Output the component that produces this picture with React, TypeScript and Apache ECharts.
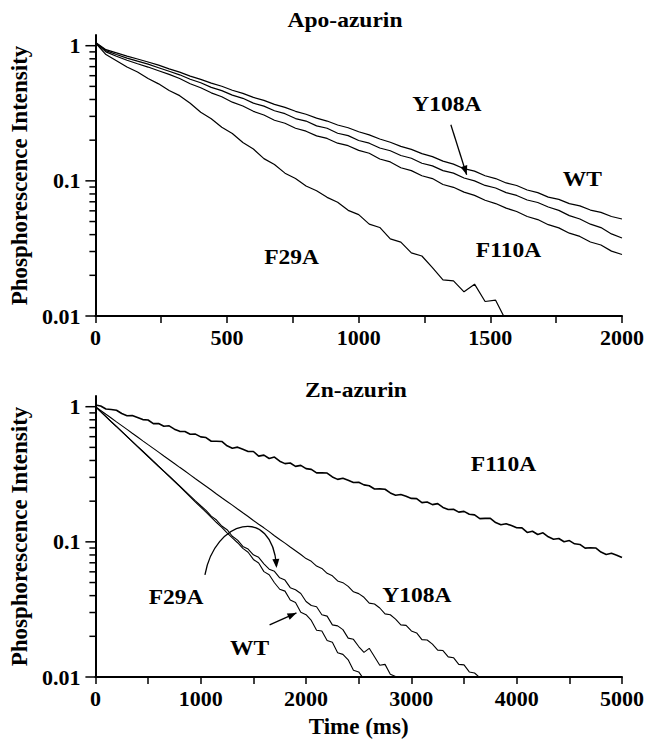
import React, { useEffect, useRef } from 'react';
import * as echarts from 'echarts';

// ---------- data ----------
const topTime = [0, 40, 80, 120, 160, 200, 240, 280, 320, 360, 400, 440, 480, 520, 560, 600, 640, 680, 720, 760, 800, 840, 880, 920, 960, 1000, 1040, 1080, 1120, 1160, 1200, 1240, 1280, 1320, 1360, 1400, 1440, 1480, 1520, 1560, 1600, 1640, 1680, 1720, 1760, 1800, 1840, 1880, 1920, 1960, 2000];

const apoWT = [1.06, 0.935, 0.885, 0.838, 0.797, 0.757, 0.718, 0.674, 0.637, 0.596, 0.563, 0.528, 0.501, 0.468, 0.444, 0.415, 0.394, 0.368, 0.35, 0.327, 0.311, 0.291, 0.277, 0.259, 0.247, 0.231, 0.219, 0.204, 0.193, 0.18, 0.171, 0.159, 0.151, 0.14, 0.133, 0.123, 0.118, 0.109, 0.104, 0.0965, 0.0924, 0.0856, 0.0818, 0.0758, 0.0729, 0.0678, 0.0653, 0.0608, 0.0584, 0.0545, 0.0522];
const apoY108A = [1.05, 0.92, 0.86, 0.81, 0.768, 0.73, 0.687, 0.647, 0.609, 0.565, 0.532, 0.492, 0.465, 0.431, 0.408, 0.376, 0.357, 0.33, 0.314, 0.289, 0.277, 0.255, 0.245, 0.225, 0.216, 0.199, 0.19, 0.175, 0.167, 0.154, 0.147, 0.135, 0.129, 0.119, 0.114, 0.105, 0.1, 0.0925, 0.0885, 0.0818, 0.078, 0.0722, 0.0692, 0.0641, 0.0605, 0.0553, 0.0522, 0.0478, 0.0451, 0.0405, 0.0378];
const apoF110A = [1.05, 0.9, 0.835, 0.78, 0.735, 0.695, 0.653, 0.614, 0.572, 0.523, 0.488, 0.448, 0.419, 0.382, 0.358, 0.327, 0.307, 0.281, 0.267, 0.245, 0.233, 0.215, 0.206, 0.19, 0.182, 0.168, 0.16, 0.145, 0.138, 0.125, 0.119, 0.109, 0.104, 0.094, 0.0896, 0.0825, 0.0781, 0.0718, 0.0679, 0.0628, 0.0593, 0.0545, 0.0517, 0.0474, 0.0449, 0.041, 0.0388, 0.0353, 0.0335, 0.0302, 0.0285];
const apoF29A = [1.05, 0.86, 0.775, 0.695, 0.638, 0.572, 0.522, 0.466, 0.427, 0.375, 0.322, 0.288, 0.249, 0.224, 0.192, 0.172, 0.146, 0.132, 0.114, 0.104, 0.0915, 0.0845, 0.0755, 0.0695, 0.0605, 0.0562, 0.0478, 0.0452, 0.0372, 0.0352, 0.0293, 0.0278, 0.0228, 0.0185, 0.0182, 0.0151, 0.0172, 0.0128, 0.0131, 0.0092, 0.0101];

const botTime = [0, 50, 100, 150, 200, 250, 300, 350, 400, 450, 500, 550, 600, 650, 700, 750, 800, 850, 900, 950, 1000, 1050, 1100, 1150, 1200, 1250, 1300, 1350, 1400, 1450, 1500, 1550, 1600, 1650, 1700, 1750, 1800, 1850, 1900, 1950, 2000, 2050, 2100, 2150, 2200, 2250, 2300, 2350, 2400, 2450, 2500, 2550, 2600, 2650, 2700, 2750, 2800, 2850, 2900, 2950, 3000, 3050, 3100, 3150, 3200, 3250, 3300, 3350, 3400, 3450, 3500, 3550, 3600, 3650, 3700, 3750, 3800, 3850, 3900, 3950, 4000, 4050, 4100, 4150, 4200, 4250, 4300, 4350, 4400, 4450, 4500, 4550, 4600, 4650, 4700, 4750, 4800, 4850, 4900, 4950, 5000];

const znF110A = [1.03, 1.012, 0.961, 0.954, 0.942, 0.89, 0.858, 0.861, 0.833, 0.803, 0.797, 0.749, 0.751, 0.717, 0.722, 0.682, 0.657, 0.655, 0.626, 0.627, 0.598, 0.591, 0.555, 0.555, 0.553, 0.514, 0.493, 0.502, 0.484, 0.466, 0.466, 0.431, 0.438, 0.414, 0.424, 0.395, 0.379, 0.383, 0.362, 0.368, 0.348, 0.344, 0.324, 0.324, 0.323, 0.302, 0.29, 0.296, 0.286, 0.275, 0.276, 0.264, 0.26, 0.246, 0.2465, 0.245, 0.23, 0.2213, 0.2238, 0.2173, 0.2097, 0.2089, 0.195, 0.1974, 0.1886, 0.1918, 0.1799, 0.1736, 0.1742, 0.1659, 0.1681, 0.16, 0.1583, 0.1486, 0.1491, 0.1494, 0.1389, 0.1339, 0.136, 0.132, 0.127, 0.1268, 0.1174, 0.1198, 0.1133, 0.1167, 0.1089, 0.1046, 0.1059, 0.1002, 0.1022, 0.0967, 0.0957, 0.0899, 0.0904, 0.0901, 0.084, 0.0807, 0.0823, 0.0797, 0.0766];
const znY108A = [1.0, 0.938, 0.879, 0.824, 0.772, 0.724, 0.679, 0.636, 0.597, 0.559, 0.524, 0.492, 0.461, 0.432, 0.405, 0.38, 0.356, 0.334, 0.313, 0.293, 0.275, 0.258, 0.242, 0.226, 0.212, 0.199, 0.187, 0.175, 0.164, 0.154, 0.144, 0.135, 0.127, 0.119, 0.111, 0.104, 0.0978, 0.0917, 0.086, 0.0806, 0.0752, 0.0718, 0.0662, 0.0636, 0.0585, 0.0561, 0.0514, 0.0499, 0.0468, 0.0427, 0.0414, 0.0389, 0.0352, 0.0347, 0.0324, 0.0293, 0.0289, 0.0268, 0.0243, 0.0241, 0.0219, 0.0212, 0.0189, 0.0188, 0.0175, 0.0158, 0.0157, 0.0141, 0.0139, 0.0124, 0.0123, 0.0109, 0.0107, 0.0099, 0.0094];
const znF29A = [1.0, 0.919, 0.845, 0.776, 0.714, 0.656, 0.603, 0.554, 0.509, 0.468, 0.43, 0.395, 0.363, 0.334, 0.307, 0.282, 0.259, 0.238, 0.219, 0.201, 0.185, 0.171, 0.155, 0.145, 0.131, 0.123, 0.11, 0.103, 0.0925, 0.0885, 0.0802, 0.0768, 0.0688, 0.0628, 0.0605, 0.0542, 0.0521, 0.0458, 0.0442, 0.0415, 0.0362, 0.0338, 0.0331, 0.0289, 0.0282, 0.0243, 0.0239, 0.0224, 0.0194, 0.019, 0.0168, 0.0152, 0.0163, 0.0141, 0.0122, 0.0124, 0.0105, 0.0101, 0.0092];
const znWT = [1.0, 0.918, 0.843, 0.774, 0.712, 0.654, 0.601, 0.552, 0.507, 0.466, 0.428, 0.393, 0.361, 0.332, 0.305, 0.28, 0.257, 0.235, 0.215, 0.197, 0.181, 0.166, 0.152, 0.139, 0.128, 0.1165, 0.107, 0.0985, 0.0895, 0.0838, 0.0741, 0.0697, 0.0602, 0.0571, 0.0498, 0.0446, 0.0432, 0.0371, 0.0356, 0.0301, 0.0289, 0.0262, 0.0222, 0.0219, 0.0186, 0.0181, 0.0151, 0.0147, 0.0134, 0.0112, 0.0109, 0.0096, 0.0088];

const yTickValues = [0.01, 0.1, 1];
const yTickLabels = ['0.01', '0.1', '1'];
const yMinorTickValues = [0.02, 0.03, 0.04, 0.05, 0.06, 0.07, 0.08, 0.09, 0.2, 0.3, 0.4, 0.5, 0.6, 0.7, 0.8, 0.9];

const panelTitles = ['Apo-azurin', 'Zn-azurin'];
const topLabels = [
  { text: 'Y108A', t: 1335, v: 0.372 },
  { text: 'WT', t: 1849, v: 0.1035 },
  { text: 'F110A', t: 1569, v: 0.0308 },
  { text: 'F29A', t: 745, v: 0.0274 },
];
const botLabels = [
  { text: 'F110A', t: 3875, v: 0.378 },
  { text: 'Y108A', t: 3053, v: 0.0405 },
  { text: 'F29A', t: 766, v: 0.0391 },
  { text: 'WT', t: 1465, v: 0.0164 },
];

// ---------- style ----------
const FONT = '"Liberation Serif", "Times New Roman", Times, serif';
const BLACK = '#000';

function pairs(t: number[], v: number[]) {
  const out: number[][] = [];
  for (let i = 0; i < v.length; i++) out.push([t[i], v[i]]);
  return out;
}

function lineSeries(gi: number, data: number[][], width = 1.2) {
  return {
    type: 'line',
    xAxisIndex: gi,
    yAxisIndex: gi,
    data,
    showSymbol: false,
    symbol: 'none',
    silent: true,
    clip: true,
    lineStyle: { color: BLACK, width },
    itemStyle: { color: BLACK },
  };
}

function yTickSeries(gi: number) {
  const data = [
    ...yTickValues.map((v) => [0, v, 10]),
    ...yMinorTickValues.map((v) => [0, v, 6]),
  ];
  return {
    type: 'custom',
    xAxisIndex: gi,
    yAxisIndex: gi,
    silent: true,
    clip: false,
    z: 5,
    data,
    renderItem: (_p: any, api: any) => {
      const p = api.coord([0, api.value(1)]);
      const len = api.value(2);
      return {
        type: 'line',
        shape: { x1: p[0] - len, y1: p[1], x2: p[0], y2: p[1] },
        style: { stroke: BLACK, lineWidth: 1.5 },
      };
    },
  };
}

function xAxis(gi: number, max: number, interval: number, name?: string) {
  return {
    type: 'value',
    gridIndex: gi,
    min: 0,
    max,
    interval,
    axisLine: { show: true, onZero: false, lineStyle: { color: BLACK, width: 2 } },
    axisTick: { show: true, length: 7, lineStyle: { color: BLACK, width: 1.5 } },
    minorTick: { show: true, splitNumber: 2, length: 7, lineStyle: { color: BLACK, width: 1.5 } },
    splitLine: { show: false },
    minorSplitLine: { show: false },
    axisLabel: {
      color: BLACK, fontFamily: FONT, fontWeight: 'bold', fontSize: 22, margin: 10,
      formatter: (v: number) => String(v),
    },
    name: name || '',
    nameLocation: 'middle',
    nameGap: 38,
    nameTextStyle: { color: BLACK, fontFamily: FONT, fontWeight: 'bold', fontSize: 23 },
  };
}

function yAxis(gi: number) {
  return {
    type: 'log',
    logBase: 10,
    gridIndex: gi,
    min: 0.01,
    max: 1.2,
    axisLine: { show: true, onZero: false, lineStyle: { color: BLACK, width: 2 } },
    axisTick: { show: false },
    minorTick: { show: false },
    splitLine: { show: false },
    minorSplitLine: { show: false },
    axisLabel: {
      color: BLACK,
      fontFamily: FONT,
      fontWeight: 'bold',
      fontSize: 22,
      margin: 15,
      formatter: (v: number) => {
        for (let i = 0; i < yTickValues.length; i++) {
          if (Math.abs(v - yTickValues[i]) / yTickValues[i] < 1e-6) return yTickLabels[i];
        }
        return '';
      },
    },
    name: 'Phosphorescence Intensity',
    nameLocation: 'middle',
    nameRotate: 90,
    nameGap: 61,
    nameTextStyle: { color: BLACK, fontFamily: FONT, fontWeight: 'bold', fontSize: 23 },
  };
}

function arrowHead(x1: number, y1: number, x2: number, y2: number, len = 9, w = 3.5) {
  const dx = x2 - x1;
  const dy = y2 - y1;
  const d = Math.hypot(dx, dy) || 1;
  const ux = dx / d;
  const uy = dy / d;
  const bx = x2 - ux * len;
  const by = y2 - uy * len;
  return [
    [x2, y2],
    [bx - uy * w, by + ux * w],
    [bx + uy * w, by - ux * w],
  ];
}

export default function App() {
  const ref = useRef<HTMLDivElement>(null);

  useEffect(() => {
    if (!ref.current) return;
    const chart = echarts.init(ref.current, null, { renderer: 'svg' });
    const option: any = {
      animation: false,
      backgroundColor: '#fff',
      grid: [
        { left: 95, top: 35, width: 529, height: 281 },
        { left: 95, top: 396, width: 529, height: 281 },
      ],
      xAxis: [xAxis(0, 2000, 500), xAxis(1, 5000, 1000, 'Time (ms)')],
      yAxis: [yAxis(0), yAxis(1)],
      series: [
        lineSeries(0, pairs(topTime, apoWT)),
        lineSeries(0, pairs(topTime, apoY108A)),
        lineSeries(0, pairs(topTime, apoF110A)),
        lineSeries(0, pairs(topTime, apoF29A)),
        lineSeries(1, pairs(botTime, znF110A), 1.6),
        lineSeries(1, pairs(botTime, znY108A), 1.1),
        lineSeries(1, pairs(botTime, znF29A), 1.1),
        lineSeries(1, pairs(botTime, znWT), 1.1),
        yTickSeries(0),
        yTickSeries(1),
      ],
    };
    chart.setOption(option);

    const px = (gi: number, t: number, v: number) =>
      chart.convertToPixel({ gridIndex: gi } as any, [t, v]) as number[];
    const labelFont = `bold 21px ${FONT}`;
    const textEl = (x: number, y: number, text: string) => ({
      type: 'text', x, y, scaleX: 1.12,
      style: { text, font: labelFont, fill: BLACK, align: 'center', verticalAlign: 'middle' },
    });
    const graphics: any[] = [];
    graphics.push(textEl(345, 20, panelTitles[0]));
    graphics.push(textEl(356, 390, panelTitles[1]));
    const addLabels = (gi: number, list: { text: string; t: number; v: number }[]) => {
      list.forEach((l) => {
        const p = px(gi, l.t, l.v);
        graphics.push(textEl(p[0], p[1], l.text));
      });
    };
    addLabels(0, topLabels);
    addLabels(1, botLabels);

    const straightArrow = (gi: number, a: number[], b: number[]) => {
      const p1 = px(gi, a[0], a[1]);
      const p2 = px(gi, b[0], b[1]);
      graphics.push({
        type: 'line',
        shape: { x1: p1[0], y1: p1[1], x2: p2[0], y2: p2[1] },
        style: { stroke: BLACK, lineWidth: 1.3 },
      });
      graphics.push({
        type: 'polygon',
        shape: { points: arrowHead(p1[0], p1[1], p2[0], p2[1]) },
        style: { fill: BLACK },
      });
    };
    straightArrow(0, [1350, 0.26], [1410, 0.111]);
    straightArrow(1, [1654, 0.0243], [1909, 0.0298]);

    // curved arrow (bottom panel)
    const s = px(1, 1040, 0.057);
    const c1 = px(1, 1134, 0.1455);
    const c2 = px(1, 1673, 0.188);
    const e = px(1, 1720, 0.0664);
    graphics.push({
      type: 'bezierCurve',
      shape: { x1: s[0], y1: s[1], cpx1: c1[0], cpy1: c1[1], cpx2: c2[0], cpy2: c2[1], x2: e[0], y2: e[1] },
      style: { stroke: BLACK, lineWidth: 1.3, fill: null },
    });
    graphics.push({
      type: 'polygon',
      shape: { points: arrowHead(c2[0], c2[1], e[0], e[1] + 2) },
      style: { fill: BLACK },
    });

    chart.setOption({ graphic: graphics });

    return () => {
      chart.dispose();
    };
  }, []);

  return (
    <div
      ref={ref}
      style={{ position: 'absolute', left: 0, top: 0, width: 647, height: 743, background: '#fff' }}
    />
  );
}
